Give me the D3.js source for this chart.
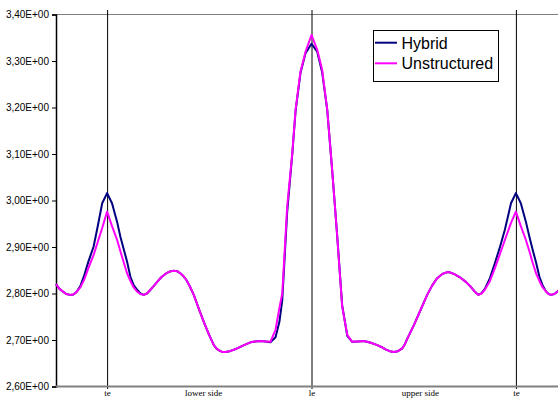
<!DOCTYPE html>
<html>
<head>
<meta charset="utf-8">
<script src="https://cdn.jsdelivr.net/npm/d3@7/dist/d3.min.js"></script>
<style>
  html, body { margin: 0; padding: 0; background: #fff; }
  svg { display: block; }
</style>
</head>
<body>
<svg id="chart" width="558" height="401"></svg>
<script>
// Position along the surface: 0 = te, 1 = le, 2 = te (wrapped round)
const position = [
  -0.25, -0.235, -0.219, -0.200, -0.180, -0.165, -0.150, -0.131, -0.111, -0.092,
  -0.066, -0.047, -0.024, 0, 0.024, 0.049, 0.065, 0.082, 0.098, 0.114,
  0.130, 0.147, 0.163, 0.179, 0.195, 0.212, 0.230, 0.245, 0.265, 0.285,
  0.305, 0.326, 0.343, 0.359, 0.374, 0.388, 0.405, 0.424, 0.448, 0.473,
  0.498, 0.522, 0.537, 0.550, 0.565, 0.579, 0.600, 0.620, 0.636, 0.670,
  0.701, 0.725, 0.750, 0.775, 0.799, 0.824, 0.843, 0.857, 0.881, 0.906,
  0.922, 0.946, 0.971, 1, 1.028, 1.052, 1.077, 1.101, 1.126, 1.150,
  1.175, 1.199, 1.230, 1.256, 1.290, 1.322, 1.342, 1.362, 1.383, 1.403,
  1.423, 1.444, 1.457, 1.470, 1.501, 1.534, 1.566, 1.590, 1.615, 1.640,
  1.664, 1.680, 1.697, 1.713, 1.729, 1.755, 1.778, 1.797, 1.816, 1.832,
  1.848, 1.873, 1.897, 1.922, 1.946, 1.976, 2, 2.024, 2.049, 2.066,
  2.082, 2.099, 2.115, 2.131, 2.148, 2.160, 2.172, 2.188, 2.203, 2.218,
  2.232, 2.25
];

const hybrid = [
  2.820, 2.811, 2.805, 2.799, 2.797, 2.798, 2.803, 2.816, 2.840, 2.868,
  2.901, 2.942, 2.994, 3.016, 2.994, 2.954, 2.922, 2.894, 2.868, 2.836,
  2.818, 2.808, 2.800, 2.797, 2.800, 2.808, 2.817, 2.825, 2.835, 2.842,
  2.847, 2.849, 2.848, 2.843, 2.837, 2.829, 2.815, 2.797, 2.768, 2.739,
  2.712, 2.689, 2.681, 2.677, 2.674, 2.674, 2.676, 2.679, 2.682, 2.689,
  2.695, 2.697, 2.698, 2.697, 2.695, 2.706, 2.739, 2.786, 2.975, 3.100,
  3.192, 3.274, 3.317, 3.337, 3.320, 3.276, 3.195, 3.066, 2.922, 2.775,
  2.709, 2.696, 2.697, 2.698, 2.694, 2.689, 2.685, 2.680, 2.676, 2.674,
  2.676, 2.682, 2.691, 2.704, 2.732, 2.765, 2.797, 2.817, 2.833, 2.842,
  2.846, 2.845, 2.842, 2.838, 2.834, 2.825, 2.815, 2.805, 2.797, 2.801,
  2.810, 2.833, 2.865, 2.900, 2.937, 2.994, 3.016, 2.994, 2.954, 2.922,
  2.894, 2.866, 2.836, 2.817, 2.804, 2.799, 2.797, 2.799, 2.804, 2.810,
  2.816, 2.822
];

const unstructured = [
  2.820, 2.811, 2.805, 2.799, 2.797, 2.798, 2.803, 2.813, 2.831, 2.854,
  2.883, 2.909, 2.941, 2.976, 2.945, 2.915, 2.891, 2.866, 2.843, 2.827,
  2.813, 2.804, 2.799, 2.797, 2.800, 2.808, 2.817, 2.825, 2.835, 2.842,
  2.847, 2.849, 2.848, 2.843, 2.837, 2.829, 2.815, 2.797, 2.768, 2.739,
  2.712, 2.689, 2.681, 2.677, 2.674, 2.674, 2.676, 2.679, 2.682, 2.689,
  2.695, 2.697, 2.698, 2.697, 2.696, 2.722, 2.769, 2.800, 2.987, 3.102,
  3.195, 3.277, 3.320, 3.356, 3.324, 3.281, 3.195, 3.066, 2.922, 2.772,
  2.711, 2.696, 2.697, 2.698, 2.694, 2.689, 2.685, 2.680, 2.676, 2.674,
  2.676, 2.682, 2.691, 2.704, 2.732, 2.765, 2.797, 2.817, 2.833, 2.842,
  2.846, 2.845, 2.842, 2.838, 2.834, 2.825, 2.815, 2.805, 2.797, 2.800,
  2.808, 2.827, 2.854, 2.885, 2.915, 2.952, 2.976, 2.945, 2.915, 2.891,
  2.866, 2.843, 2.827, 2.813, 2.804, 2.799, 2.797, 2.799, 2.804, 2.810,
  2.816, 2.822
];

const seriesNames = ["Hybrid", "Unstructured"];
const seriesColors = ["#000080", "#FF00FF"];

const yTicks = [2.6, 2.7, 2.8, 2.9, 3.0, 3.1, 3.2, 3.3, 3.4];
const xLabelPos = [0, 0.47, 1, 1.53, 2];
const xLabels = ["te", "lower side", "le", "upper side", "te"];
const markerPos = [0, 1, 2];

const svg = d3.select("#chart");
const plotLeft = 56, plotTop = 14.5, plotBottom = 386.5, plotRight = 567;

const x = d3.scaleLinear().domain([-0.25, 2.25]).range([plotLeft, plotRight]);
const y = d3.scaleLinear().domain([2.6, 3.4]).range([plotBottom, plotTop]);

svg.append("rect").attr("width", 558).attr("height", 401).attr("fill", "#fff");

// top border of the plot area
svg.append("line")
  .attr("x1", plotLeft).attr("x2", 558)
  .attr("y1", plotTop).attr("y2", plotTop)
  .attr("stroke", "#808080").attr("stroke-width", 1);

// te / le / te marker lines
svg.append("g").selectAll("line").data(markerPos).join("line")
  .attr("x1", d => x(d) + 0.5).attr("x2", d => x(d) + 0.5)
  .attr("y1", 10).attr("y2", 389)
  .attr("stroke", "#000").attr("stroke-width", 1);

// y axis
const yAxis = d3.axisLeft(y)
  .tickValues(yTicks)
  .tickSize(4)
  .tickPadding(3)
  .tickFormat(d => d3.format(".2f")(d).replace(".", ",") + "E+00");

const gy = svg.append("g")
  .attr("transform", `translate(${plotLeft},0)`)
  .call(yAxis);
gy.select(".domain").attr("stroke", "#000").attr("stroke-width", 1.5);
gy.selectAll(".tick line").attr("stroke", "#000");
gy.selectAll(".tick text")
  .attr("font-family", "'Liberation Sans', Arial, sans-serif")
  .attr("font-size", 10)
  .attr("fill", "#000");

// x axis baseline
svg.append("line")
  .attr("x1", plotLeft).attr("x2", 558)
  .attr("y1", plotBottom).attr("y2", plotBottom)
  .attr("stroke", "#808080").attr("stroke-width", 2);

// category labels along the bottom
const xAxis = d3.axisBottom(x)
  .tickValues(xLabelPos)
  .tickSize(0)
  .tickPadding(0)
  .tickFormat((d, i) => xLabels[i]);

const gx = svg.append("g")
  .attr("transform", `translate(0,${plotBottom})`)
  .call(xAxis);
gx.select(".domain").remove();
gx.selectAll(".tick text")
  .attr("dy", null)
  .attr("y", 9.5)
  .attr("font-family", "'Liberation Serif', 'Times New Roman', serif")
  .attr("font-size", 9)
  .attr("fill", "#000");

// series lines
const line = d3.line()
  .x((d, i) => x(position[i]))
  .y(d => y(d))
  .curve(d3.curveLinear);

[hybrid, unstructured].forEach((vals, k) => {
  svg.append("path")
    .datum(vals)
    .attr("d", line)
    .attr("fill", "none")
    .attr("stroke", seriesColors[k])
    .attr("stroke-width", 2)
    .attr("stroke-linejoin", "round");
});

// legend
const lg = svg.append("g").attr("transform", "translate(373.5,30.5)");
lg.append("rect")
  .attr("width", 125).attr("height", 51)
  .attr("fill", "#fff").attr("stroke", "#000").attr("stroke-width", 1);
seriesNames.forEach((name, k) => {
  const cy = 12.2 + k * 20.6;
  lg.append("line")
    .attr("x1", 1.5).attr("x2", 23.5)
    .attr("y1", cy).attr("y2", cy)
    .attr("stroke", seriesColors[k]).attr("stroke-width", 2);
  lg.append("text")
    .attr("x", 28)
    .attr("y", cy + 5.8)
    .attr("font-family", "'Liberation Sans', Arial, sans-serif")
    .attr("font-size", 16)
    .attr("fill", "#000")
    .text(name);
});
</script>
</body>
</html>
